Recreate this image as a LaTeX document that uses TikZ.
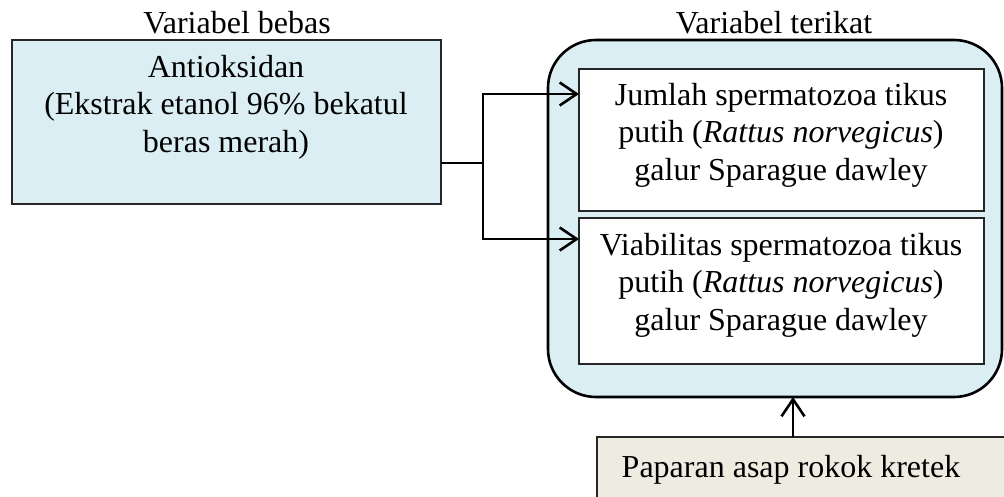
\documentclass[tikz,border=0pt]{standalone}
\usepackage{fontspec}
\setmainfont{Liberation Serif}
\usetikzlibrary{arrows.meta,calc}
\definecolor{paleblue}{RGB}{218,238,243}
\definecolor{paletan}{RGB}{238,236,225}
\begin{document}
\begin{tikzpicture}[x=1pt,y=-1pt,
  txt/.style={align=center,inner sep=0pt,font=\fontsize{32}{37.5}\selectfont},
  plainbox/.style={draw=black!85,line width=1.3pt,inner sep=0pt,outer sep=0pt,anchor=north west},
  conn/.style={line width=2.6pt,black},
  arr/.style={conn,-{Straight Barb[length=17pt,width=23pt,line width=2.6pt]}}]
\useasboundingbox (0,0) rectangle (1004,497);
\clip (0,0) rectangle (1004,497);
% boxes
\node[plainbox,fill=paleblue,minimum width=429pt,minimum height=164pt] (indep) at (12,40) {};
\node[draw=black,line width=2.6pt,rounded corners=48pt,fill=paleblue,inner sep=0pt,outer sep=0pt,
      anchor=north west,minimum width=454pt,minimum height=357pt] (dep) at (548,40) {};
\node[plainbox,fill=white,minimum width=405pt,minimum height=142pt] (count) at (579,69) {};
\node[plainbox,fill=white,minimum width=405pt,minimum height=146pt] (viab) at (579,218) {};
\node[plainbox,fill=paletan,minimum width=430pt,minimum height=90pt] (smoke) at (597,437) {};
% texts
\node[txt] (lblA) at (237,23) {Variabel bebas};
\node[txt] (lblB) at (774,23) {Variabel terikat};
\node[txt] (tA) at (226,107) {Antioksidan\\(Ekstrak etanol 96\% bekatul\\beras merah)};
\node[txt] (tB) at (781,135) {Jumlah spermatozoa tikus\\putih (\textit{Rattus norvegicus})\\galur Sparague dawley};
\node[txt] (tC) at (781,285) {Viabilitas spermatozoa tikus\\putih (\textit{Rattus norvegicus})\\galur Sparague dawley};
\node[txt] (tD) at (791,470) {Paparan asap rokok kretek};
% connectors
\coordinate (fork) at (483,163);
\draw[conn] ($(indep.south east)!0.25!(indep.north east)$) -- (fork);
\draw[arr] (fork) |- ($(count.north west)!0.176!(count.south west)$);
\draw[arr] (fork) |- ($(viab.north west)!0.144!(viab.south west)$);
\draw[arr] ([xshift=-19pt]smoke.north) -- ([xshift=-19pt]smoke.north |- dep.south);
\end{tikzpicture}
\end{document}
